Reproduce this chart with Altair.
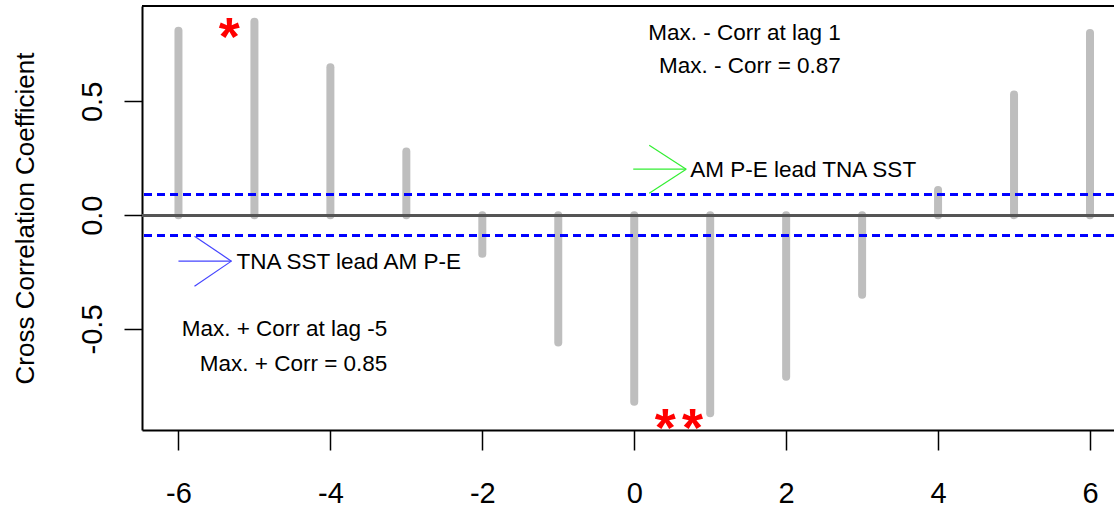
import altair as alt
import pandas as pd

# ---- data ----
lags = [-6, -5, -4, -3, -2, -1, 0, 1, 2, 3, 4, 5, 6]
ccf = [0.81, 0.85, 0.65, 0.28, -0.17, -0.56, -0.82, -0.87, -0.71, -0.35, 0.11, 0.53, 0.80]
ci_level = 0.09
x_ticks = [-6, -4, -2, 0, 2, 4, 6]
y_ticks = [-0.5, 0.0, 0.5]
x_domain = [-6.48, 6.316]
y_domain = [-0.944, 0.919]

right_text = ["Max. - Corr at lag 1", "Max. - Corr = 0.87",
              "Max. + Corr at lag -5", "Max. + Corr = 0.85"]
right_text_x = [2.72, 2.72, -3.25, -3.25]
right_text_y = [0.799, 0.654, -0.501, -0.655]

left_text = ["AM P-E lead TNA SST", "TNA SST lead AM P-E"]
left_text_x = [0.737, -5.237]
left_text_y = [0.197, -0.206]

star_x = [-5.33, 0.408, 0.767]
star_y = [0.822, -0.896, -0.896]

green_x = [-0.013, 0.197, 0.197]
green_x2 = [0.684, 0.684, 0.684]
green_y = [0.202, 0.3076, 0.0967]
green_y2 = [0.202, 0.202, 0.202]

blue_x = [-6.0, -5.789, -5.789]
blue_x2 = [-5.303, -5.303, -5.303]
blue_y = [-0.202, -0.0923, -0.312]
blue_y2 = [-0.202, -0.202, -0.202]

REG = "Liberation Sans, Arial, sans-serif"

bars_df = pd.DataFrame({"lag": lags, "r": ccf, "zero": [0.0] * len(lags)})
rt_df = pd.DataFrame({"x": right_text_x, "y": right_text_y, "t": right_text})
lt_df = pd.DataFrame({"x": left_text_x, "y": left_text_y, "t": left_text})
star_df = pd.DataFrame({"x": star_x, "y": star_y, "t": ["*"] * len(star_x)})
g_df = pd.DataFrame({"x": green_x, "x2": green_x2, "y": green_y, "y2": green_y2})
b_df = pd.DataFrame({"x": blue_x, "x2": blue_x2, "y": blue_y, "y2": blue_y2})

xs = alt.Scale(domain=x_domain, nice=False, zero=False)
ys = alt.Scale(domain=y_domain, nice=False, zero=False)

x_axis = alt.Axis(
    values=x_ticks, grid=False, title=None,
    labelExpr="(datum.value < 0 ? '-' : '') + format(abs(datum.value), 'd')",
    labelFont=REG, labelFontSize=29, labelColor="black",
    labelBaseline="middle", labelPadding=43,
    tickSize=20, tickColor="black", tickWidth=1.5,
    domainColor="black", domainWidth=2,
)
y_axis = alt.Axis(
    values=y_ticks, grid=False, title="Cross Correlation Coefficient",
    labelExpr="(datum.value < 0 ? '-' : '') + format(abs(datum.value), '.1f')",
    labelFont=REG, labelFontSize=29, labelColor="black",
    labelAngle=270, labelAlign="center", labelBaseline="alphabetic", labelPadding=23,
    tickSize=18, tickColor="black", tickWidth=1.5,
    domainColor="black", domainWidth=2,
    titleFont=REG, titleFontSize=26, titleFontWeight="normal", titleColor="black",
    titleAngle=270, titleAlign="center", titleBaseline="alphabetic",
    titleX=-109, titleY=212,
)

bars = alt.Chart(bars_df).mark_rule(
    color="#bebebe", strokeWidth=8, strokeCap="round"
).encode(
    x=alt.X("lag:Q", scale=xs, axis=x_axis),
    y=alt.Y("zero:Q", scale=ys, axis=y_axis),
    y2="r:Q",
)

zero_line = alt.Chart(bars_df).mark_rule(color="#555555", strokeWidth=2.5).encode(
    y=alt.datum(0.0, scale=ys)
)
ci_up = alt.Chart(bars_df).mark_rule(color="blue", strokeWidth=2, strokeDash=[8, 5]).encode(
    y=alt.datum(ci_level)
)
ci_dn = alt.Chart(bars_df).mark_rule(color="blue", strokeWidth=2, strokeDash=[8, 5]).encode(
    y=alt.datum(-ci_level)
)
top_border = alt.Chart(bars_df).mark_rule(color="black", strokeWidth=2).encode(
    y=alt.datum(y_domain[1])
)

rtext = alt.Chart(rt_df).mark_text(
    align="right", baseline="middle", font=REG, fontSize=22.5, color="black"
).encode(x="x:Q", y="y:Q", text="t:N")
ltext = alt.Chart(lt_df).mark_text(
    align="left", baseline="middle", font=REG, fontSize=22.5, color="black"
).encode(x="x:Q", y="y:Q", text="t:N")

stars = alt.Chart(star_df).mark_text(
    align="center", baseline="alphabetic", font=REG, fontSize=54, fontWeight="bold",
    color="red", dy=27
).encode(x="x:Q", y="y:Q", text="t:N")

g_arrow = alt.Chart(g_df).mark_rule(color="#33ee33", strokeWidth=1.2).encode(
    x="x:Q", x2="x2:Q", y="y:Q", y2="y2:Q"
)
b_arrow = alt.Chart(b_df).mark_rule(color="#4444ff", strokeWidth=1.2).encode(
    x="x:Q", x2="x2:Q", y="y:Q", y2="y2:Q"
)

chart = alt.layer(
    bars, zero_line, ci_up, ci_dn, top_border, g_arrow, b_arrow, rtext, ltext, stars
).properties(
    width=972, height=424,
    autosize=alt.AutoSizeParams(type="none"),
    padding={"left": 142, "top": 6, "right": 0, "bottom": 77},
    background="white",
).configure_view(stroke=None)

chart.save("out.html", embed_options={"renderer": "svg", "actions": False})
